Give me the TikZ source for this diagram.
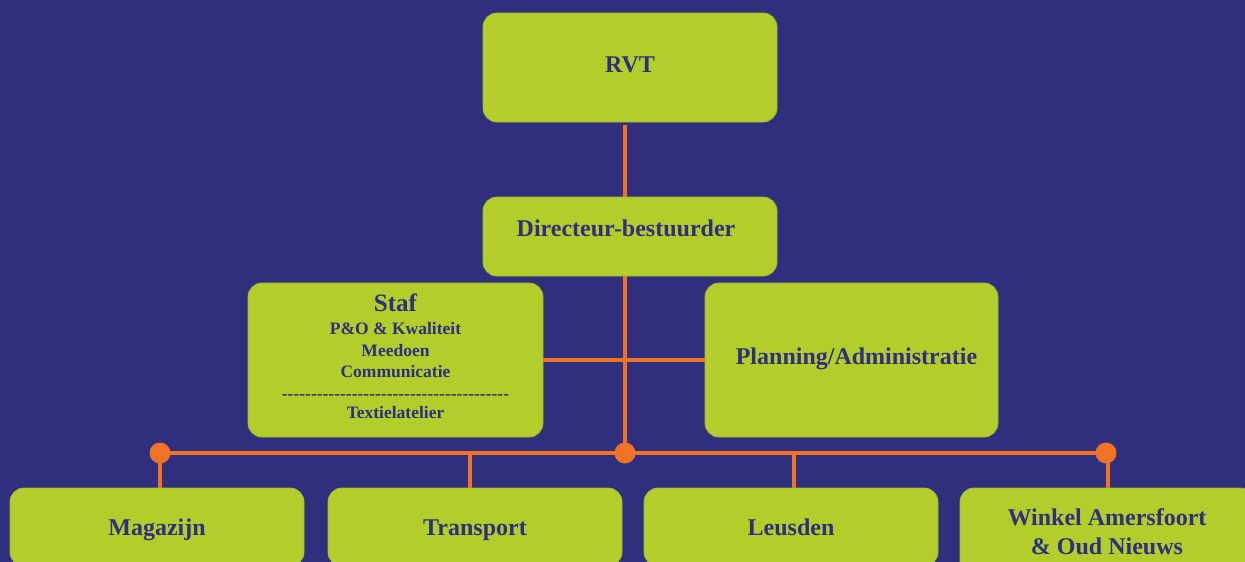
\documentclass[tikz,border=0pt]{standalone}
\usepackage{fontspec}
\setmainfont{Liberation Serif}
\definecolor{bg}{HTML}{2F2F7E}
\definecolor{lime}{HTML}{B3CD2B}
\definecolor{limeedge}{HTML}{A3BB2C}
\definecolor{org}{HTML}{F07224}
\definecolor{ink}{HTML}{2F2F7E}
\tikzset{
  box/.style={rectangle, rounded corners=14pt, fill=lime, draw=limeedge, line width=0.8pt,
    minimum width=294pt, inner sep=0pt, text=ink, font=\bfseries\fontsize{24}{26}\selectfont, align=center},
  lowbox/.style={box, minimum height=78pt, text height=20pt, text depth=3pt},
  conn/.style={draw=org, line width=4pt},
  dot/.style={circle, fill=org, inner sep=0pt, minimum size=21pt}
}
\begin{document}
\begin{tikzpicture}[x=1pt,y=-1pt]
\fill[bg] (0,0) rectangle (1245,562);
\useasboundingbox (0,0) rectangle (1245,562);
\clip (0,0) rectangle (1245,562);

\node[box, minimum height=109pt, text height=15pt, text depth=6pt] (rvt) at (630,67.5) {RVT};
\node[box, minimum height=79pt, text height=12pt, text depth=12pt] (dir) at (630,236.5) {Directeur-bestuurder\hspace*{8pt}};
\node[box, minimum width=295pt, minimum height=154pt, font=\bfseries\fontsize{17.5}{21.5}\selectfont] (staf) at (395.5,360)
  {{\fontsize{25}{25}\selectfont Staf}\\[2pt]
   P\&O \& Kwaliteit\\
   Meedoen\\
   Communicatie\\
   -{}-{}-{}-{}-{}-{}-{}-{}-{}-{}-{}-{}-{}-{}-{}-{}-{}-{}-{}-{}-{}-{}-{}-{}-{}-{}-{}-{}-{}-{}-{}-{}-{}-{}-{}-{}-{}-{}-\\[-2pt]
   Textielatelier\\[-13.5pt]\mbox{}};
\node[box, minimum width=293pt, minimum height=154pt, text height=15pt, text depth=6pt] (plan) at (851.5,360) {\hspace*{10pt}Planning/Administratie};

\node[lowbox] (mag) at (157,527) {Magazijn};
\node[lowbox] (tra) at (475,527) {Transport};
\node[lowbox] (leu) at (791,527) {Leusden};
\node[box, minimum height=87pt, font=\bfseries\fontsize{24}{29}\selectfont] (win) at (1107,531.5) {Winkel Amersfoort\\\& Oud Nieuws};

\coordinate (jl) at (160,453);
\coordinate (jc) at (625,453);
\coordinate (jr) at (1106,453);

\draw[conn] ([xshift=-5pt,yshift=-3pt]rvt.south) -- ([xshift=-5pt]dir.north);
\draw[conn] ([xshift=-5pt]dir.south) -- (jc);
\draw[conn] (staf.east) -- (plan.west);
\draw[conn] (jl) -- (jr);
\draw[conn] (jl) -- (jl |- mag.north);
\draw[conn] (tra.north -| 470,0) -- (470,453);
\draw[conn] (leu.north -| 794,0) -- (794,453);
\draw[conn] (jr -| 1108,0) -- (win.north -| 1108,0);
\node[dot] (dl) at (jl) {};
\node[dot] (dc) at (jc) {};
\node[dot] (dr) at (jr) {};
\end{tikzpicture}
\end{document}
